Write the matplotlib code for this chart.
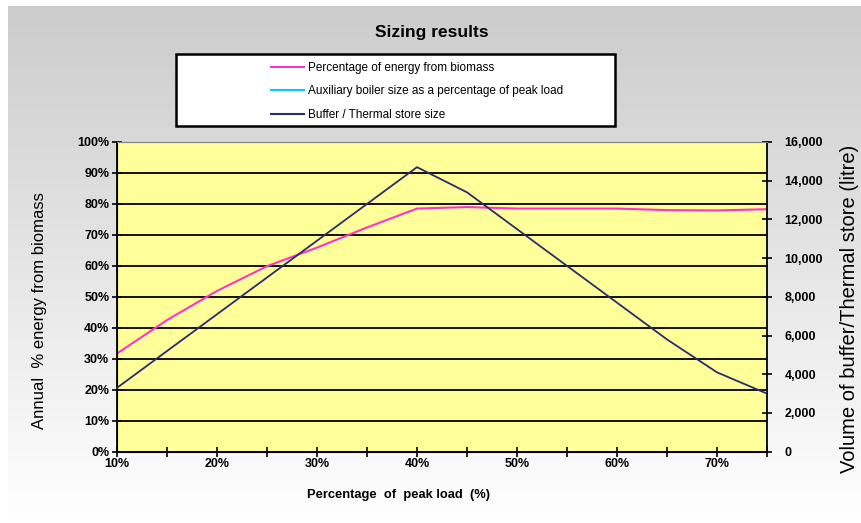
import numpy as np
import matplotlib
matplotlib.use('Agg')
import matplotlib.pyplot as plt
from matplotlib.lines import Line2D
from matplotlib.patches import Rectangle
from matplotlib.ticker import FuncFormatter, MultipleLocator

plt.rcParams['font.family'] = ['Liberation Sans', 'DejaVu Sans']

# data
peak_load = [10, 15, 20, 25, 30, 35, 40, 45, 50, 55, 60, 65, 70, 75]
energy_biomass = [31.7, 42.5, 51.9, 59.9, 65.9, 72.4, 78.5, 79.0, 78.5, 78.5, 78.5, 78.0, 77.9, 78.3]
aux_boiler = []  # series is in the legend but not drawn on the chart
buffer_size = [3300, 5200, 7100, 9000, 10900, 12800, 14700, 13400, 11500, 9600, 7700, 5800, 4100, 3000]

series_labels = ['Percentage of energy from biomass',
                 'Auxiliary boiler size as a percentage of peak load',
                 'Buffer / Thermal store size']

W, H = 862, 523
fig = plt.figure(figsize=(W / 100, H / 100), dpi=100)

# grey-to-white background
bg = fig.add_axes([8 / W, 0, 1 - 8 / W, 1 - 6 / H], zorder=-10)
grad = np.linspace(0.80, 1.0, 256)
img = np.repeat(grad[:, None], 2, axis=1)
rgb = np.dstack([img, img, img])
bg.imshow(rgb, aspect='auto', extent=[0, 1, 0, 1], origin='upper')
bg.set_axis_off()

ax = fig.add_axes([117 / W, 1 - 451.7 / H, 650 / W, 309.7 / H])
ax.set_facecolor('#ffff99')

ax.plot(peak_load, energy_biomass, color='#ff33cc', lw=1.5, zorder=3)
ax.plot(peak_load[:len(aux_boiler)], aux_boiler, color='#00ccff', lw=1.5)
ax.set_xlim(10, 75)
ax.set_ylim(0, 100)
ax.yaxis.set_major_locator(MultipleLocator(10))
ax.yaxis.set_major_formatter(FuncFormatter(lambda v, p: f'{v:.0f}%'))
ax.xaxis.set_major_locator(MultipleLocator(5))
ax.xaxis.set_major_formatter(FuncFormatter(lambda v, p: f'{v:.0f}%' if round(v) % 10 == 0 and v < 75 else ''))
ax.grid(axis='y', color='black', lw=1.3)
ax.tick_params(direction='inout', length=7, width=1.2, labelsize=9, pad=2)
ax.tick_params(axis='x', pad=1)
for lab in ax.get_xticklabels() + ax.get_yticklabels():
    lab.set_fontweight('bold')
for s in ['left', 'bottom']:
    ax.spines[s].set_linewidth(1.3)
ax.spines['top'].set_color('#888888')
ax.spines['right'].set_visible(False)

ax2 = ax.twinx()
ax2.plot(peak_load, buffer_size, color='#2b2b6b', lw=1.3, zorder=3)
ax2.set_ylim(0, 16000)
ax2.yaxis.set_major_locator(MultipleLocator(2000))
ax2.yaxis.set_major_formatter(FuncFormatter(lambda v, p: f'{v:,.0f}'))
ax2.tick_params(direction='inout', length=7, width=1.2, labelsize=9, pad=9)
for lab in ax2.get_yticklabels():
    lab.set_fontweight('bold')
ax2.spines['right'].set_linewidth(1.3)
ax2.spines['top'].set_color('#888888')

# axis titles
fig.text(40 / W, 1 - 311 / H, 'Annual  % energy from biomass', rotation=90,
         ha='center', va='center', fontsize=12)
fig.text(850 / W, 1 - 309 / H, 'Volume of buffer/Thermal store (litre)', rotation=90,
         ha='center', va='center', fontsize=14.5)
fig.text(399 / W, 1 - 495 / H, 'Percentage  of  peak load  (%)', ha='center', va='center',
         fontsize=9.3, fontweight='bold')

fig.text(432 / W, 1 - 33 / H, 'Sizing results', ha='center', va='center',
         fontsize=12.5, fontweight='bold')

# legend box
fig.patches.append(Rectangle((176 / W, 1 - 126 / H), 439 / W, 72 / H,
                             transform=fig.transFigure, facecolor='white',
                             edgecolor='black', lw=1.8, zorder=5))
handles = [Line2D([], [], color='#ff33cc', lw=1.5),
           Line2D([], [], color='#00ccff', lw=1.5),
           Line2D([], [], color='#2b2b6b', lw=1.5)]
leg = fig.legend(handles, series_labels, loc='upper left',
                 bbox_to_anchor=(265 / W, 1 - 56 / H), bbox_transform=fig.transFigure,
                 frameon=False, fontsize=8.5, handlelength=2.8, handletextpad=0.3,
                 labelspacing=0.98, borderpad=0)
leg.set_zorder(6)

plt.savefig('out.png', dpi=100)
